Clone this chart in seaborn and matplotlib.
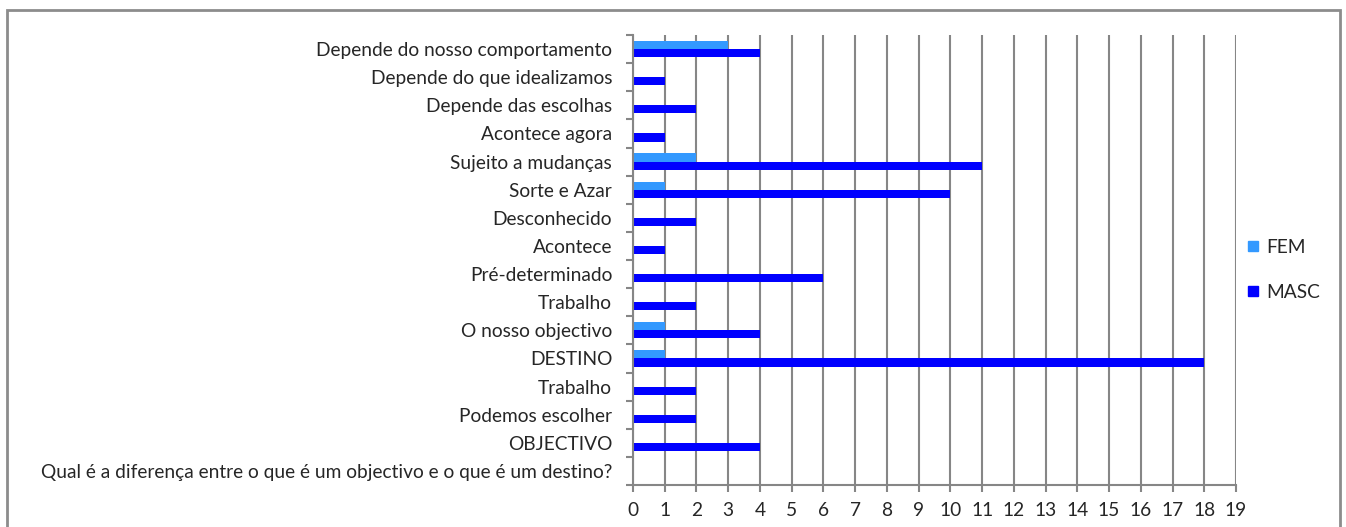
import matplotlib
matplotlib.use("Agg")
import matplotlib.pyplot as plt
from matplotlib.patches import Rectangle
from matplotlib.lines import Line2D
from matplotlib.ticker import FixedLocator, NullFormatter
import seaborn as sns
import pandas as pd

# Answer categories, listed from the top of the chart to the bottom
categories = [
    "Depende do nosso comportamento",
    "Depende do que idealizamos",
    "Depende das escolhas",
    "Acontece agora",
    "Sujeito a mudanças",
    "Sorte e Azar",
    "Desconhecido",
    "Acontece",
    "Pré-determinado",
    "Trabalho",
    "O nosso objectivo",
    "DESTINO",
    "Trabalho",
    "Podemos escolher",
    "OBJECTIVO",
    "Qual é a diferença entre o que é um objectivo e o que é um destino?",
]
fem = [3, 0, 0, 0, 2, 1, 0, 0, 0, 0, 1, 1, 0, 0, 0, 0]
masc = [4, 1, 2, 1, 11, 10, 2, 1, 6, 2, 4, 18, 2, 2, 4, 0]
series = ["FEM", "MASC"]
x_ticks = list(range(0, 20))

colors = {"FEM": "#3399FF", "MASC": "#0000FF"}
grid_color = "#868686"
font_size = 13.8

sns.set_theme(style="white")
plt.rcParams["font.family"] = ["Lato", "DejaVu Sans"]

rows = []
for i, (f, m) in enumerate(zip(fem, masc)):
    rows.append({"pos": i, "grupo": "FEM", "valor": f})
    rows.append({"pos": i, "grupo": "MASC", "valor": m})
df = pd.DataFrame(rows)

fig = plt.figure(figsize=(13.46, 5.27), dpi=100)
ax = fig.add_axes([633 / 1346, 1 - 485 / 527, (1236 - 633) / 1346, (485 - 35) / 527])

sns.barplot(
    data=df, x="valor", y="pos", hue="grupo", orient="h",
    order=list(range(len(categories))), hue_order=series,
    palette=colors, width=0.58, dodge=True, gap=0,
    saturation=1, legend=False, ax=ax, linewidth=0,
)

ax.set_xlim(0, 19)
ax.set_ylim(len(categories) - 0.5, -0.5)
ax.set_xticks(x_ticks)
ax.set_xticklabels([str(t) for t in x_ticks], fontsize=font_size)
ax.set_yticks(range(len(categories)))
ax.set_yticklabels(categories, fontsize=font_size)
ax.yaxis.set_minor_locator(FixedLocator([i - 0.5 for i in range(len(categories) + 1)]))
ax.yaxis.set_minor_formatter(NullFormatter())
ax.tick_params(axis="y", which="major", length=0, pad=15)
ax.tick_params(axis="y", which="minor", length=5, width=1.5, color=grid_color, left=True)
ax.tick_params(axis="x", which="major", length=5, width=1.5, color=grid_color, bottom=True, pad=7)
ax.set_xlabel("")
ax.set_ylabel("")

ax.grid(axis="x", color=grid_color, linewidth=1.5)
ax.set_axisbelow(True)
for side in ("top", "right"):
    ax.spines[side].set_visible(False)
for side in ("left", "bottom"):
    ax.spines[side].set_color(grid_color)
    ax.spines[side].set_linewidth(1.5)

handles = [
    Line2D([], [], marker="s", linestyle="none", markersize=6.5,
           markerfacecolor=colors[s], markeredgecolor=colors[s], label=s)
    for s in series
]
fig.legend(handles=handles, loc="center left", bbox_to_anchor=(1243 / 1346, 1 - 270 / 527),
           frameon=False, fontsize=font_size, handlelength=1.0, handletextpad=0.2,
           labelspacing=1.45, borderpad=0, borderaxespad=0)

# Outer chart frame
fig.patches.append(Rectangle((7 / 1346, -0.05), (1340 - 7) / 1346, 1.05 - 10 / 527,
                             transform=fig.transFigure, fill=False,
                             edgecolor="#8c8c8c", linewidth=2))

fig.savefig("out.png", dpi=100)
